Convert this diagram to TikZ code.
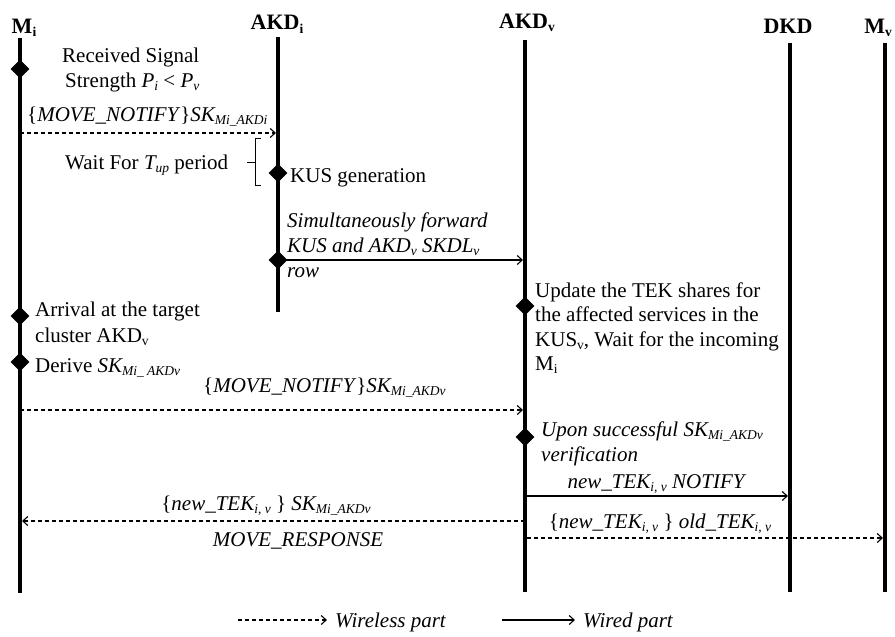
\documentclass[tikz,border=0pt]{standalone}
\usepackage{fontspec}
\setmainfont{Liberation Serif}
\usetikzlibrary{shapes.geometric,arrows.meta}
\newcommand{\lo}[1]{\raisebox{-0.35ex}{\fontsize{13.5}{13.5}\selectfont #1}}
\begin{document}
\begin{tikzpicture}[x=1pt,y=-1pt,
  life/.style={line width=3.5pt},
  head/.style={font=\fontsize{22}{22}\selectfont\bfseries, anchor=base, inner sep=0pt},
  txt/.style={font=\fontsize{21}{21}\selectfont, anchor=base west, inner sep=0pt},
  ctxt/.style={txt, anchor=base},
  ev/.style={diamond, fill=black, inner sep=0pt, minimum size=19pt},
  wired/.style={line width=1.1pt, -{Straight Barb[length=5pt,width=9pt]}},
  wireless/.style={wired, dash pattern=on 4pt off 3pt},
  bracket/.style={line width=1pt},
]
\clip (0,0) rectangle (895,637);
% headers
\node[head] (hMi) at (24,33) {M\lo{i}};
\node[head] (hAKDi) at (277,30) {AKD\lo{i}};
\node[head] (hAKDv) at (527,28) {AKD\lo{v}};
\node[head] (hDKD) at (788,33) {DKD};
\node[head] (hMv) at (878,33) {M\lo{v}};
% lifelines
\coordinate (Mi-top) at (20,38);   \coordinate (Mi-bot) at (20,593);
\coordinate (Ai-top) at (278,37);  \coordinate (Ai-bot) at (278,312);
\coordinate (Av-top) at (525,40);  \coordinate (Av-bot) at (525,592);
\coordinate (D-top) at (790,43);   \coordinate (D-bot) at (790,592);
\coordinate (Mv-top) at (885,43);  \coordinate (Mv-bot) at (885,592);
\draw[life] (Mi-top) -- (Mi-bot);
\draw[life] (Ai-top) -- (Ai-bot);
\draw[life] (Av-top) -- (Av-bot);
\draw[life] (D-top) -- (D-bot);
\draw[life] (Mv-top) -- (Mv-bot);
% events
\node[ev] (e1) at (20,69) {};
\node[txt] (t1a) at (62,62) {Received Signal};
\node[txt] (t1b) at (65,87) {Strength \textit{P\lo{i}} < \textit{P\lo{v}}};
% message 1
\coordinate (m1a) at (20,133); \coordinate (m1b) at (276,133);
\draw[wireless] (m1a) -- (m1b);
\node[txt] (l1) at (27,121) {\{\textit{MOVE\_NOTIFY}\}\textit{SK\lo{Mi\_AKDi}}};
% wait bracket
\coordinate (br1) at (261,138); \coordinate (br2) at (255,138);
\coordinate (br3) at (255,185); \coordinate (br4) at (261,185);
\coordinate (br5) at (255,162); \coordinate (br6) at (247,162);
\draw[bracket] (br1) -- (br2) -- (br3) -- (br4);
\draw[bracket] (br5) -- (br6);
\node[txt] (tw) at (65,169) {Wait For \textit{T\lo{up}} period};
% KUS generation
\node[ev] (e2) at (278,173) {};
\node[txt] (t2) at (290,182) {KUS generation};
% message 2
\node[ev] (e3) at (278,260) {};
\coordinate (m2a) at (278,260); \coordinate (m2b) at (523,260);
\draw[wired] (m2a) -- (m2b);
\node[txt] (l2a) at (287,227) {\textit{Simultaneously forward}};
\node[txt] (l2b) at (287,252) {\textit{KUS and AKD\lo{v} SKDL\lo{v}}};
\node[txt] (l2c) at (287,277) {\textit{row}};
% AKDv update
\node[ev] (e4) at (525,306) {};
\node[txt] (t4a) at (535,297) {Update the TEK shares for};
\node[txt] (t4b) at (535,321) {the affected services in the};
\node[txt] (t4c) at (535,346) {KUS\lo{v}, Wait for the incoming};
\node[txt] (t4d) at (535,370) {M\lo{i}};
% arrival
\node[ev] (e5) at (20,316) {};
\node[txt] (t5a) at (35,316) {Arrival at the target};
\node[txt] (t5b) at (35,342) {cluster AKD\lo{v}};
\node[ev] (e6) at (20,362) {};
\node[txt] (t6) at (35,372) {Derive \textit{SK\lo{Mi\_ AKDv}}};
% message 3
\coordinate (m3a) at (20,410); \coordinate (m3b) at (523,410);
\draw[wireless] (m3a) -- (m3b);
\node[txt] (l3) at (203,392) {\{\textit{MOVE\_NOTIFY}\}\textit{SK\lo{Mi\_AKDv}}};
% verification
\node[ev] (e7) at (525,437) {};
\node[txt] (t7a) at (541,436) {\textit{Upon successful SK\lo{Mi\_AKDv}}};
\node[txt] (t7b) at (541,461) {\textit{verification}};
% message 4
\coordinate (m4a) at (525,496); \coordinate (m4b) at (788,496);
\draw[wired] (m4a) -- (m4b);
\node[ctxt] (l4) at (657,488) {\textit{new\_TEK\lo{i, v} NOTIFY}};
% message 5
\coordinate (m5a) at (525,521); \coordinate (m5b) at (22,521);
\draw[wireless] (m5a) -- (m5b);
\node[ctxt] (l5a) at (266,510) {\{\textit{new\_TEK\lo{i, v}} \} \textit{SK\lo{Mi\_AKDv}}};
\node[ctxt] (l5b) at (298,546) {\textit{MOVE\_RESPONSE}};
% message 6
\coordinate (m6a) at (527,538); \coordinate (m6b) at (883,538);
\draw[wireless] (m6a) -- (m6b);
\node[ctxt] (l6) at (660,528) {\{\textit{new\_TEK\lo{i, v}} \} \textit{old\_TEK\lo{i, v}}};
% legend
\coordinate (k1a) at (238,620); \coordinate (k1b) at (327,620);
\draw[wireless] (k1a) -- (k1b);
\node[txt] (k1) at (335,627) {\textit{Wireless part}};
\coordinate (k2a) at (502,620); \coordinate (k2b) at (575,620);
\draw[wired] (k2a) -- (k2b);
\node[txt] (k2) at (583,627) {\textit{Wired part}};
\end{tikzpicture}
\end{document}
